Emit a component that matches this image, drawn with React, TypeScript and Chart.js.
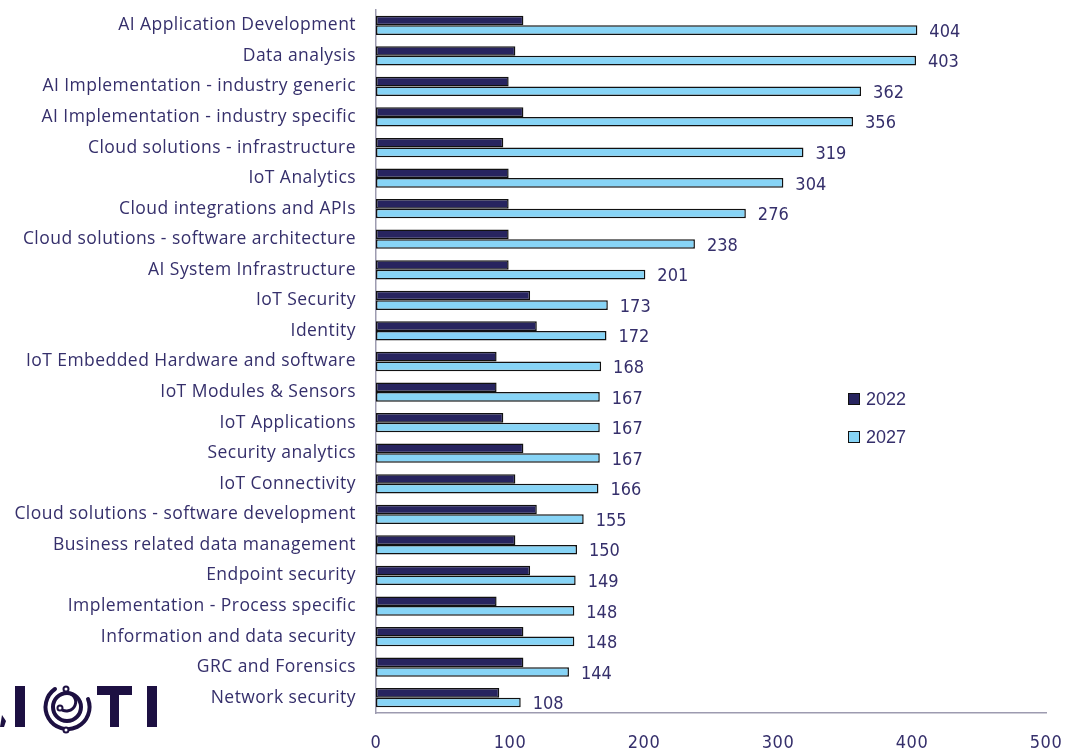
import React, { useEffect, useRef } from "react";
import { Chart, registerables } from "chart.js";

Chart.register(...registerables);

const categories = [
  "AI Application Development",
  "Data analysis",
  "AI Implementation - industry generic",
  "AI Implementation - industry specific",
  "Cloud solutions - infrastructure",
  "IoT Analytics",
  "Cloud integrations and APIs",
  "Cloud solutions - software architecture",
  "AI System Infrastructure",
  "IoT Security",
  "Identity",
  "IoT Embedded Hardware and software",
  "IoT Modules & Sensors",
  "IoT Applications",
  "Security analytics",
  "IoT Connectivity",
  "Cloud solutions - software development",
  "Business related data management",
  "Endpoint security",
  "Implementation - Process specific",
  "Information and data security",
  "GRC and Forensics",
  "Network security",
];

const values2022 = [110, 104, 99, 110, 95, 99, 99, 99, 99, 115, 120, 90, 90, 95, 110, 104, 120, 104, 115, 90, 110, 110, 92];
const values2027 = [404, 403, 362, 356, 319, 304, 276, 238, 201, 173, 172, 168, 167, 167, 167, 166, 155, 150, 149, 148, 148, 144, 108];

const seriesNames = ["2022", "2027"];
const xTicks = [0, 100, 200, 300, 400, 500];

const TEXT = "#352f6b";
const NUM_FONT = "'DejaVu Sans Condensed', 'DejaVu Sans', sans-serif";
const LABEL_FONT = "'Open Sans', 'Noto Sans', sans-serif";

const letterSpacing = {
  id: "letterSpacing",
  beforeDraw(chart: any) {
    chart.ctx.letterSpacing = "0.45px";
  },
  beforeDatasetsDraw(chart: any) {
    chart.ctx.letterSpacing = "0px";
  },
};

const valueLabels = {
  id: "valueLabels",
  afterDatasetsDraw(chart: any) {
    const ctx = chart.ctx;
    const meta = chart.getDatasetMeta(1);
    ctx.save();
    ctx.letterSpacing = "0px";
    ctx.font = `18px ${NUM_FONT}`;
    ctx.fillStyle = TEXT;
    ctx.textAlign = "left";
    ctx.textBaseline = "middle";
    meta.data.forEach((bar: any, i: number) => {
      ctx.fillText(String(values2027[i]), bar.x + 12, bar.y + 2);
    });
    ctx.restore();
  },
};

const customLegend = {
  id: "customLegend",
  afterDraw(chart: any) {
    const ctx = chart.ctx;
    ctx.save();
    ctx.letterSpacing = "0px";
    const xBox = 848;
    const ys = [399, 437];
    chart.data.datasets.forEach((ds: any, i: number) => {
      const y = ys[i];
      ctx.fillStyle = ds.backgroundColor;
      ctx.fillRect(xBox, y - 6, 12, 12);
      ctx.strokeStyle = "#111";
      ctx.lineWidth = 1;
      ctx.strokeRect(xBox + 0.5, y - 5.5, 11, 11);
      ctx.fillStyle = TEXT;
      ctx.font = `18px 'Liberation Sans', Arial, sans-serif`;
      ctx.textAlign = "left";
      ctx.textBaseline = "middle";
      ctx.fillText(ds.label, xBox + 18, y + 1);
    });
    ctx.restore();
  },
};

function Logo() {
  const c = "#1d1042";
  return (
    <svg
      width={170}
      height={60}
      viewBox="0 0 170 60"
      style={{ position: "absolute", left: 0, top: 675 }}
    >
      <polygon points="0,52 4,52 6,46 2,40" fill={c} />
      <rect x={15} y={11} width={10} height={41} fill={c} />
      <path d="M 55 14 A 22 22 0 1 0 88 24" fill="none" stroke={c} strokeWidth={4} strokeLinecap="round" />
      <circle cx={67} cy={32} r={14} fill="none" stroke={c} strokeWidth={4} />
      <path d="M 66 18 A 9 9 0 1 1 60 33" fill="none" stroke={c} strokeWidth={3} />
      <circle cx={66} cy={14} r={2.5} fill="white" stroke={c} strokeWidth={2} />
      <circle cx={60} cy={33} r={2.5} fill="white" stroke={c} strokeWidth={2} />
      <circle cx={66} cy={55} r={2.5} fill="white" stroke={c} strokeWidth={2} />
      <rect x={97} y={11} width={35} height={9} fill={c} />
      <rect x={110} y={11} width={9} height={41} fill={c} />
      <rect x={147} y={11} width={10} height={41} fill={c} />
    </svg>
  );
}

export default function App() {
  const ref = useRef<HTMLCanvasElement>(null);

  useEffect(() => {
    if (!ref.current) return;
    const chart = new Chart(ref.current, {
      type: "bar",
      data: {
        labels: categories,
        datasets: [
          {
            label: seriesNames[0],
            data: values2022,
            backgroundColor: "#27245f",
            borderColor: "#111111",
            borderWidth: 1.5,
            borderSkipped: false,
            categoryPercentage: 0.63,
            barPercentage: 1,
          },
          {
            label: seriesNames[1],
            data: values2027,
            backgroundColor: "#87d4f6",
            borderColor: "#111111",
            borderWidth: 1.5,
            borderSkipped: false,
            categoryPercentage: 0.63,
            barPercentage: 1,
          },
        ],
      },
      options: {
        indexAxis: "y",
        responsive: false,
        animation: false,
        layout: { padding: { top: 10, right: 23, bottom: 0, left: 0 } },
        plugins: {
          legend: { display: false },
          tooltip: { enabled: false },
        },
        scales: {
          x: {
            min: 0,
            max: 500,
            afterBuildTicks: (scale: any) => {
              scale.ticks = xTicks.map((v) => ({ value: v }));
            },
            afterFit: (scale: any) => {
              scale.height = 40;
              scale.paddingLeft = 0;
              scale.paddingRight = 0;
            },
            grid: { display: false, drawTicks: false },
            border: { display: true, color: "#9d9bb0", width: 1.5 },
            ticks: {
              padding: 20,
              color: TEXT,
              font: { family: NUM_FONT, size: 18 },
            },
          },
          y: {
            afterFit: (scale: any) => {
              scale.width = 376;
              scale.paddingTop = 0;
              scale.paddingBottom = 0;
            },
            grid: { display: false, drawTicks: false },
            border: { display: true, color: "#9d9bb0", width: 1.5 },
            ticks: {
              padding: 20,
              color: TEXT,
              autoSkip: false,
              font: { family: LABEL_FONT, size: 17.5 },
            },
          },
        },
      },
      plugins: [letterSpacing, valueLabels, customLegend],
    } as any);
    return () => chart.destroy();
  }, []);

  return (
    <div style={{ position: "fixed", left: 0, top: 0, width: 1069, height: 753, background: "white" }}>
      <canvas ref={ref} width={1069} height={753} style={{ position: "absolute", left: 0, top: 0 }} />
      <Logo />
    </div>
  );
}
